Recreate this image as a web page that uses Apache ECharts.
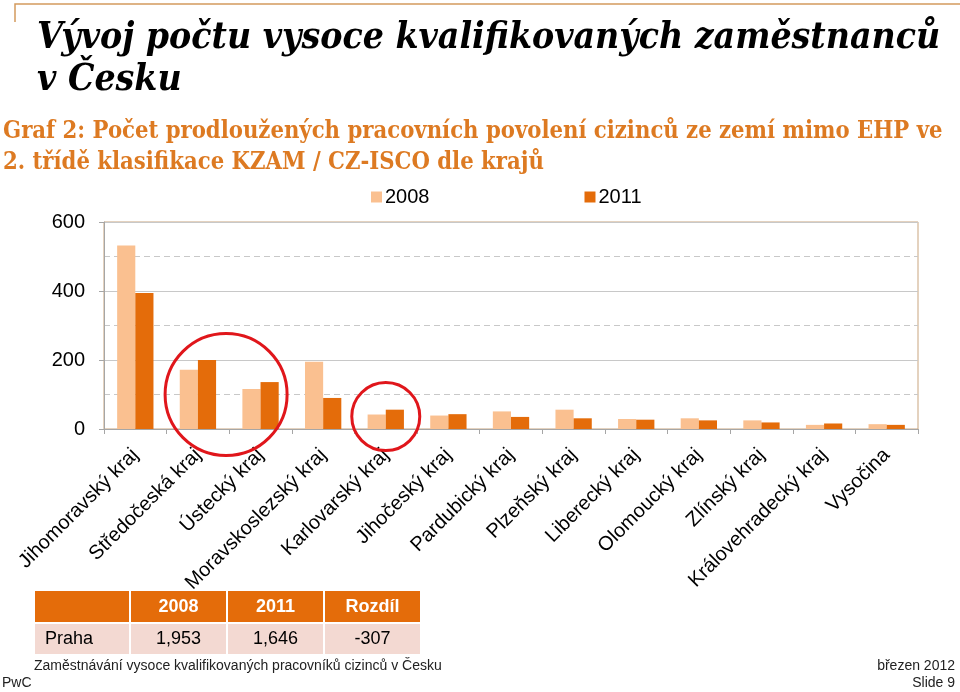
<!DOCTYPE html>
<html>
<head>
<meta charset="utf-8">
<script src="https://cdn.jsdelivr.net/npm/echarts@6/dist/echarts.min.js"></script>
<style>
html,body{margin:0;padding:0;background:#fff;}
#main{width:960px;height:692px;}
</style>
</head>
<body>
<div id="main"></div>
<script>
// ---- data ----
const categories = ['Jihomoravský kraj','Středočeská kraj','Ústecký kraj','Moravskoslezský kraj','Karlovarský kraj','Jihočeský kraj','Pardubický kraj','Plzeňský kraj','Liberecký kraj','Olomoucký kraj','Zlínský kraj','Královehradecký kraj','Vysočina'];
const values2008 = [532,172,116,195,42,39,51,56,29,31,25,12,14];
const values2011 = [394,200,136,90,56,43,35,31,27,25,19,16,12];
const seriesNames = ['2008','2011'];
const yTicks = [0,200,400,600];
const tableHeader = ['','2008','2011','Rozdíl'];
const tableRow = ['Praha','1,953','1,646','-307'];
const titleLines = ['Vývoj počtu vysoce kvalifikovaných zaměstnanců','v Česku'];
const subtitleLines = ['Graf 2: Počet prodloužených pracovních povolení cizinců ze zemí mimo EHP ve','2. třídě klasifikace KZAM / CZ-ISCO dle krajů'];
const footerLeft = 'Zaměstnávání vysoce kvalifikovaných pracovníků cizinců v Česku';
const footerRight = 'březen 2012';
const footerBrand = 'PwC';
const footerSlide = 'Slide 9';
// highlighted groups: [category position (index, may be fractional), value, radius px]
const highlights = [[1.45, 100, 61], [4, 36, 34]];

const SANS = 'Liberation Sans, Arial, sans-serif';
const SERIF = 'DejaVu Serif Condensed, DejaVu Serif, serif';
const C2008 = '#FAC090', C2011 = '#E46C0A';

// table graphics
const colX = [35,131,228,325], colW = [94,95,95,95];
const tableG = [];
tableHeader.forEach((t,i)=>{
  tableG.push({type:'rect', id:'th'+i, shape:{x:colX[i],y:591,width:colW[i],height:31}, style:{fill:'#E46C0A'}});
  tableG.push({type:'text', id:'tht'+i, x:colX[i]+colW[i]/2, y:607, style:{text:t, fill:'#fff', font:'bold 18px '+SANS, textAlign:'center', textVerticalAlign:'middle'}});
});
tableRow.forEach((t,i)=>{
  tableG.push({type:'rect', id:'tr'+i, shape:{x:colX[i],y:624,width:colW[i],height:30}, style:{fill:'#F3D9D2'}});
  tableG.push({type:'text', id:'trt'+i, x: i===0 ? colX[i]+10 : colX[i]+colW[i]/2, y:639, style:{text:t, fill:'#000', font:'18px '+SANS, textAlign: i===0?'left':'center', textVerticalAlign:'middle'}});
});

const option = {
  animation:false,
  backgroundColor:'#fff',
  title:[
    {text:titleLines.join('\n'), left:32, top:12, textStyle:{fontFamily:SERIF, fontStyle:'italic', fontWeight:'bold', fontSize:37, lineHeight:42, color:'#000'}},
    {text:subtitleLines.join('\n'), left:-2, top:111, textStyle:{fontFamily:SERIF, fontWeight:'bold', fontSize:23.6, lineHeight:31, color:'#DD7A22'}}
  ],
  legend:{
    data:seriesNames, left:371, top:187, padding:0, icon:'rect', itemWidth:11, itemHeight:11, itemGap:155,
    textStyle:{fontFamily:SANS, fontSize:20, color:'#000', padding:[0,0,0,-2]}
  },
  grid:{left:104, right:42, top:222, bottom:263, show:true, borderColor:'#C9A57E', borderWidth:1, backgroundColor:'transparent'},
  xAxis:{
    type:'category', data:categories,
    axisLine:{lineStyle:{color:'#A6A6A6'}},
    axisTick:{show:true, length:5, lineStyle:{color:'#A6A6A6'}},
    axisLabel:{interval:0, rotate:45, fontFamily:SANS, fontSize:20, color:'#000', margin:23}
  },
  yAxis:{
    type:'value', min:0, max:600, interval:200,
    axisLine:{show:true, lineStyle:{color:'#A6A6A6'}},
    axisTick:{show:true, length:5, lineStyle:{color:'#A6A6A6'}},
    axisLabel:{fontFamily:SANS, fontSize:20, color:'#000', margin:19, customValues:yTicks},
    splitLine:{lineStyle:{color:'#C8C8C8'}},
    minorTick:{show:false, splitNumber:2},
    minorSplitLine:{show:true, lineStyle:{color:'#C8C8C8', type:[6,4]}}
  },
  series:[
    {name:seriesNames[0], type:'bar', data:values2008, itemStyle:{color:C2008}, barGap:'0%', barCategoryGap:'42%'},
    {name:seriesNames[1], type:'bar', data:values2011, itemStyle:{color:C2011}, barGap:'0%', barCategoryGap:'42%'}
  ],
  graphic:[
    {type:'polyline', id:'deco', shape:{points:[[15,22],[15,4],[960,4]]}, style:{stroke:'#D49A5E', lineWidth:1.5, fill:null}},
    ...tableG,
    {type:'text', id:'f1', x:34, y:666, style:{text:footerLeft, font:'14px '+SANS, fill:'#222', textVerticalAlign:'middle'}},
    {type:'text', id:'f2', x:955, y:666, style:{text:footerRight, font:'14px '+SANS, fill:'#222', textAlign:'right', textVerticalAlign:'middle'}},
    {type:'text', id:'f3', x:2, y:683, style:{text:footerBrand, font:'14px '+SANS, fill:'#222', textVerticalAlign:'middle'}},
    {type:'text', id:'f4', x:955, y:683, style:{text:footerSlide, font:'14px '+SANS, fill:'#222', textAlign:'right', textVerticalAlign:'middle'}}
  ]
};

const chart = echarts.init(document.getElementById('main'));
chart.setOption(option);

// red annotation circles positioned via the chart's scales
const circles = highlights.map((h,i)=>{
  const lo = Math.floor(h[0]), hi = Math.ceil(h[0]);
  const pA = chart.convertToPixel({xAxisIndex:0,yAxisIndex:0},[lo,h[1]]);
  const pB = chart.convertToPixel({xAxisIndex:0,yAxisIndex:0},[hi,h[1]]);
  const t = h[0]-lo;
  return {type:'circle', id:'hl'+i, z:100, shape:{cx:pA[0]+(pB[0]-pA[0])*t, cy:pA[1], r:h[2]}, style:{stroke:'#E0161B', lineWidth:3, fill:null}};
});
chart.setOption({graphic:circles});
</script>
</body>
</html>
